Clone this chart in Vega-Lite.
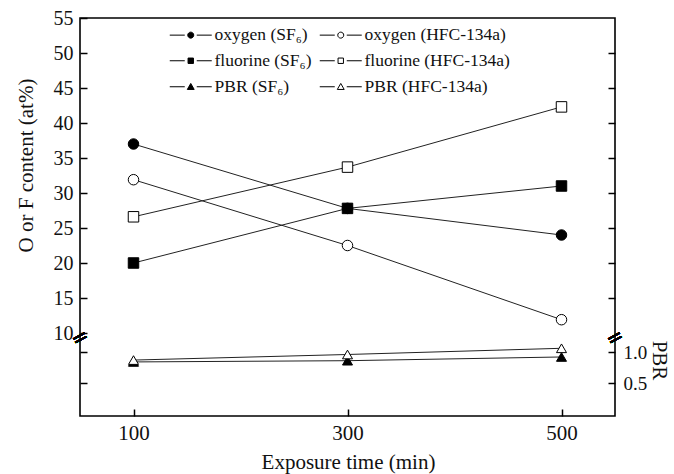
{
  "$schema": "https://vega.github.io/schema/vega-lite/v6.json",
  "width": 535,
  "height": 398,
  "autosize": {"type": "none"},
  "padding": {"left": 80, "top": 18, "right": 59, "bottom": 58},
  "background": "white",
  "config": {
    "font": "Liberation Serif",
    "view": {"stroke": "black", "strokeWidth": 1.6},
    "axis": {
      "domain": false,
      "grid": false,
      "tickColor": "black",
      "tickWidth": 1.5,
      "tickSize": -7,
      "labelFont": "Liberation Serif",
      "labelFontSize": 20,
      "labelColor": "#111",
      "titleFont": "Liberation Serif",
      "titleFontSize": 21,
      "titleFontWeight": "normal",
      "titleColor": "#111"
    }
  },
  "data": {
    "values": [
      {"time": 100, "series": "oxygen (SF₆)", "kind": "content", "value": 37.0},
      {"time": 300, "series": "oxygen (SF₆)", "kind": "content", "value": 27.8},
      {"time": 500, "series": "oxygen (SF₆)", "kind": "content", "value": 24.0},
      {"time": 100, "series": "oxygen (HFC-134a)", "kind": "content", "value": 31.9},
      {"time": 300, "series": "oxygen (HFC-134a)", "kind": "content", "value": 22.5},
      {"time": 500, "series": "oxygen (HFC-134a)", "kind": "content", "value": 11.9},
      {"time": 100, "series": "fluorine (SF₆)", "kind": "content", "value": 20.0},
      {"time": 300, "series": "fluorine (SF₆)", "kind": "content", "value": 27.8},
      {"time": 500, "series": "fluorine (SF₆)", "kind": "content", "value": 31.0},
      {"time": 100, "series": "fluorine (HFC-134a)", "kind": "content", "value": 26.6},
      {"time": 300, "series": "fluorine (HFC-134a)", "kind": "content", "value": 33.7},
      {"time": 500, "series": "fluorine (HFC-134a)", "kind": "content", "value": 42.3},
      {"time": 100, "series": "PBR (SF₆)", "kind": "pbr", "value": 0.84},
      {"time": 300, "series": "PBR (SF₆)", "kind": "pbr", "value": 0.86},
      {"time": 500, "series": "PBR (SF₆)", "kind": "pbr", "value": 0.92},
      {"time": 100, "series": "PBR (HFC-134a)", "kind": "pbr", "value": 0.87},
      {"time": 300, "series": "PBR (HFC-134a)", "kind": "pbr", "value": 0.96},
      {"time": 500, "series": "PBR (HFC-134a)", "kind": "pbr", "value": 1.06}
    ]
  },
  "encoding": {
    "x": {
      "field": "time",
      "type": "quantitative",
      "scale": {"domain": [50, 550], "nice": false, "zero": false},
      "axis": {
        "values": [100, 300, 500],
        "title": "Exposure time (min)",
        "labelPadding": 13,
        "labelFontSize": 21,
        "titleBaseline": "middle",
        "titleY": 46,
        "titleX": 268
      }
    }
  },
  "layer": [
    {
      "transform": [{"filter": "datum.kind === 'content'"}],
      "mark": {"type": "line", "color": "#222", "strokeWidth": 1},
      "encoding": {
        "y": {
          "field": "value",
          "type": "quantitative",
          "scale": {"domain": [-1.857, 55], "nice": false, "zero": false},
          "axis": {
            "orient": "left",
            "values": [2.857, 7.286, 10, 15, 20, 25, 30, 35, 40, 45, 50, 55],
            "labelExpr": "datum.value >= 10 ? datum.label : ''",
            "labelPadding": 14,
            "title": "O or F content (at%)",
            "titleAngle": -90,
            "titleAlign": "center",
            "titleBaseline": "middle",
            "titleX": -54,
            "titleY": 147
          }
        },
        "detail": {"field": "series"}
      }
    },
    {
      "transform": [{"filter": "datum.kind === 'content'"}],
      "mark": {"type": "point", "filled": true, "stroke": "black", "strokeWidth": 1, "size": 110, "opacity": 1},
      "encoding": {
        "y": {
          "field": "value",
          "type": "quantitative",
          "scale": {"domain": [-1.857, 55], "nice": false, "zero": false},
          "axis": {
            "orient": "right",
            "values": [15, 20, 25, 30, 35, 40, 45, 50],
            "labels": false,
            "title": null
          }
        },
        "shape": {
          "field": "series",
          "scale": {
            "domain": ["oxygen (SF₆)", "oxygen (HFC-134a)", "fluorine (SF₆)", "fluorine (HFC-134a)"],
            "range": ["circle", "circle", "square", "square"]
          },
          "legend": null
        },
        "fill": {
          "field": "series",
          "scale": {
            "domain": ["oxygen (SF₆)", "oxygen (HFC-134a)", "fluorine (SF₆)", "fluorine (HFC-134a)"],
            "range": ["black", "white", "black", "white"]
          },
          "legend": null
        }
      }
    },
    {
      "transform": [{"filter": "datum.kind === 'pbr'"}],
      "mark": {"type": "line", "color": "#222", "strokeWidth": 1},
      "encoding": {
        "y": {
          "field": "value",
          "type": "quantitative",
          "scale": {"domain": [-0.032, 6.387], "nice": false, "zero": false},
          "axis": {
            "orient": "right",
            "values": [0.5, 1.0],
            "format": ".1f",
            "labelPadding": 15,
            "labelFontSize": 19,
            "title": "PBR",
            "titleAngle": 90,
            "titleAlign": "center",
            "titleBaseline": "middle",
            "titleX": 43,
            "titleY": 342
          }
        },
        "detail": {"field": "series"}
      }
    },
    {
      "transform": [{"filter": "datum.kind === 'pbr'"}],
      "mark": {"type": "point", "filled": true, "stroke": "black", "strokeWidth": 1, "size": 100, "opacity": 1, "shape": "triangle-up"},
      "encoding": {
        "y": {
          "field": "value",
          "type": "quantitative",
          "scale": {"domain": [-0.032, 6.387], "nice": false, "zero": false},
          "axis": null
        },
        "fill": {
          "field": "series",
          "scale": {"domain": ["PBR (SF₆)", "PBR (HFC-134a)"], "range": ["black", "white"]},
          "legend": null
        }
      }
    },
    {
      "mark": {"type": "point", "filled": true, "stroke": "black", "strokeWidth": 1, "opacity": 0},
      "encoding": {
        "y": {
          "field": "value",
          "type": "quantitative",
          "scale": {"domain": [-1.857, 55], "nice": false, "zero": false},
          "axis": null
        },
        "shape": {
          "field": "series",
          "scale": {
            "domain": ["oxygen (SF₆)", "fluorine (SF₆)", "PBR (SF₆)", "oxygen (HFC-134a)", "fluorine (HFC-134a)", "PBR (HFC-134a)"],
            "range": [
              "M-7,0H-2M2,0H7M-1,0A1,1,0,1,0,1,0A1,1,0,1,0,-1,0Z",
              "M-7,0H-2M2,0H7M-0.9,-0.9H0.9V0.9H-0.9Z",
              "M-7,0H-2M2,0H7M0,-1.1L1.15,0.9H-1.15Z",
              "M-7,0H-2M2,0H7M-1,0A1,1,0,1,0,1,0A1,1,0,1,0,-1,0Z",
              "M-7,0H-2M2,0H7M-0.9,-0.9H0.9V0.9H-0.9Z",
              "M-7,0H-2M2,0H7M0,-1.1L1.15,0.9H-1.15Z"
            ]
          },
          "legend": {
            "orient": "none",
            "legendX": 102,
            "legendY": 8,
            "columns": 2,
            "title": null,
            "symbolSize": 36,
            "symbolStrokeWidth": 1,
            "symbolOpacity": 1,
            "labelFont": "Liberation Serif",
            "labelFontSize": 17.5,
            "labelColor": "#111",
            "labelOffset": 15,
            "rowPadding": 7,
            "columnPadding": 5,
            "padding": 0
          }
        },
        "fill": {
          "field": "series",
          "scale": {
            "domain": ["oxygen (SF₆)", "fluorine (SF₆)", "PBR (SF₆)", "oxygen (HFC-134a)", "fluorine (HFC-134a)", "PBR (HFC-134a)"],
            "range": ["black", "black", "black", "white", "white", "white"]
          },
          "legend": {
            "orient": "none",
            "legendX": 102,
            "legendY": 8,
            "columns": 2,
            "title": null,
            "symbolSize": 36,
            "symbolStrokeWidth": 1,
            "symbolOpacity": 1,
            "labelFont": "Liberation Serif",
            "labelFontSize": 17.5,
            "labelColor": "#111",
            "labelOffset": 15,
            "rowPadding": 7,
            "columnPadding": 5,
            "padding": 0
          }
        }
      }
    },
    {
      "mark": {"type": "text", "text": "=", "font": "DejaVu Sans", "fontSize": 20, "angle": -28, "color": "black"},
      "encoding": {
        "x": {"datum": 50, "type": "quantitative"},
        "y": {"datum": 9.3, "type": "quantitative", "scale": {"domain": [-1.857, 55], "nice": false, "zero": false}, "axis": null}
      }
    },
    {
      "mark": {"type": "text", "text": "=", "font": "DejaVu Sans", "fontSize": 20, "angle": -28, "color": "black"},
      "encoding": {
        "x": {"datum": 550, "type": "quantitative"},
        "y": {"datum": 9.3, "type": "quantitative", "scale": {"domain": [-1.857, 55], "nice": false, "zero": false}, "axis": null}
      }
    }
  ],
  "resolve": {
    "scale": {"y": "independent", "shape": "independent", "fill": "independent"},
    "axis": {"y": "independent"},
    "legend": {"shape": "independent", "fill": "independent"}
  }
}
